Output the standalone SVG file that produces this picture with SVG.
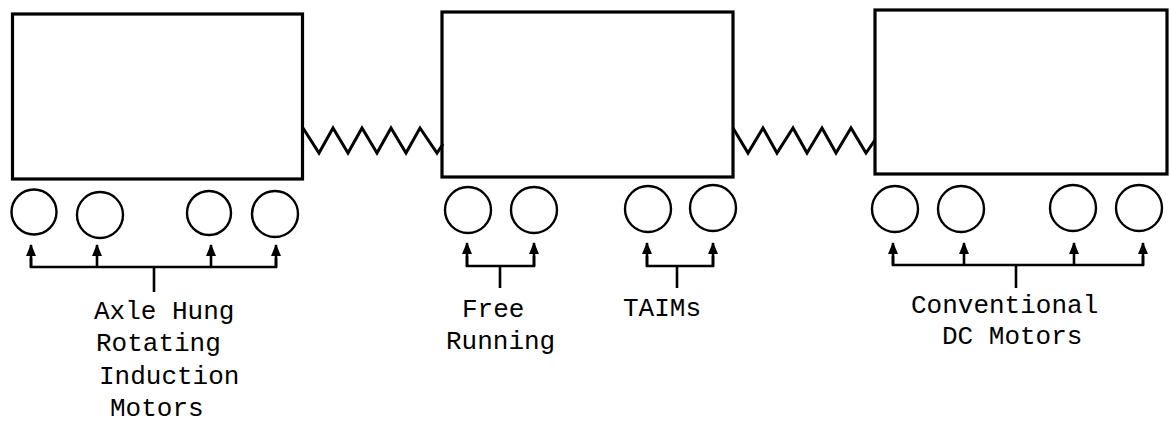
<svg xmlns="http://www.w3.org/2000/svg" width="1171" height="424" viewBox="0 0 1171 424">
<style>
.car{fill:none;stroke:#000;stroke-width:3.2}
.wheel{fill:none;stroke:#000;stroke-width:2.4}
.spring{fill:none;stroke:#000;stroke-width:3;stroke-linejoin:miter}
.br{fill:none;stroke:#000;stroke-width:2.6}
.ar{fill:none;stroke:#000;stroke-width:2.6;marker-end:url(#ah)}
.lbl{font-family:"Liberation Mono","Courier New",monospace;font-size:26px;fill:#000}
</style>
<defs>
<marker id="ah" viewBox="0 0 12 10" refX="11" refY="5" markerWidth="12" markerHeight="10" markerUnits="userSpaceOnUse" orient="auto">
<path d="M0,0 L12,5 L0,10 z" fill="#000"/>
</marker>
</defs>
<rect width="1171" height="424" fill="#fff"/>
<g id="car1">
<rect class="car" x="12.5" y="14" width="290" height="165"/>
<circle class="wheel" cx="34" cy="212" r="22.5"/>
<circle class="wheel" cx="100" cy="215" r="23"/>
<circle class="wheel" cx="209" cy="213" r="22"/>
<circle class="wheel" cx="275" cy="214" r="23"/>
</g>
<g id="car2">
<rect class="car" x="442" y="12" width="291" height="165"/>
<circle class="wheel" cx="468" cy="210" r="23"/>
<circle class="wheel" cx="534" cy="210" r="23"/>
<circle class="wheel" cx="648" cy="209" r="23"/>
<circle class="wheel" cx="713" cy="208" r="23"/>
</g>
<g id="car3">
<rect class="car" x="875" y="10" width="292" height="164"/>
<circle class="wheel" cx="895" cy="209" r="23"/>
<circle class="wheel" cx="961" cy="209" r="23"/>
<circle class="wheel" cx="1073" cy="208" r="23"/>
<circle class="wheel" cx="1139" cy="208" r="23"/>
</g>
<g id="connectors">
<path class="spring" d="M303,128 L319,153 L333,128 L348,153 L362,128 L377,153 L391,128 L406,153 L420,128 L437,153 L443,144"/>
<path class="spring" d="M733,128 L748,153 L763,128 L777,153 L793,128 L807,153 L822,128 L836,153 L851,128 L866,153 L875,140"/>
<g id="bracket-axle">
<path class="br" d="M31,258 V267 H276 V258 M154,267 V292"/>
<line class="ar" x1="31" y1="267" x2="31" y2="245"/>
<line class="ar" x1="97" y1="267" x2="97" y2="245"/>
<line class="ar" x1="211" y1="267" x2="211" y2="245"/>
<line class="ar" x1="276" y1="267" x2="276" y2="245"/>
</g>
<g id="bracket-free">
<path class="br" d="M467,256 V266 H534 V256 M500,266 V288"/>
<line class="ar" x1="467" y1="266" x2="467" y2="243"/>
<line class="ar" x1="534" y1="266" x2="534" y2="243"/>
</g>
<g id="bracket-taim">
<path class="br" d="M647,256 V266 H713 V256 M677,266 V288"/>
<line class="ar" x1="647" y1="266" x2="647" y2="243"/>
<line class="ar" x1="713" y1="266" x2="713" y2="243"/>
</g>
<g id="bracket-dc">
<path class="br" d="M893,256 V265 H1143 V256 M1016,265 V288"/>
<line class="ar" x1="893" y1="265" x2="893" y2="243"/>
<line class="ar" x1="964" y1="265" x2="964" y2="243"/>
<line class="ar" x1="1074" y1="265" x2="1074" y2="243"/>
<line class="ar" x1="1143" y1="265" x2="1143" y2="243"/>
</g>
</g>
<g id="label-axle">
<text class="lbl" x="94" y="319">Axle Hung</text>
<text class="lbl" x="96" y="351">Rotating</text>
<text class="lbl" x="99" y="384">Induction</text>
<text class="lbl" x="110" y="416">Motors</text>
</g>
<g id="label-free">
<text class="lbl" x="462" y="317">Free</text>
<text class="lbl" x="446" y="349">Running</text>
</g>
<g id="label-taim">
<text class="lbl" x="623" y="316">TAIMs</text>
</g>
<g id="label-dc">
<text class="lbl" x="911" y="313">Conventional</text>
<text class="lbl" x="942" y="344">DC Motors</text>
</g>
</svg>
